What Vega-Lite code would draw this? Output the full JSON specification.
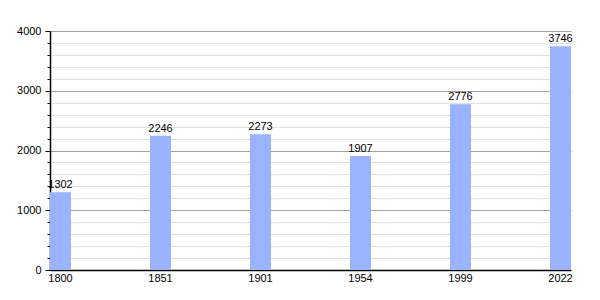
{
  "$schema": "https://vega.github.io/schema/vega-lite/v6.json",
  "width": 521,
  "height": 239,
  "autosize": {"type": "none"},
  "padding": {"left": 50, "top": 31, "right": 29, "bottom": 30},
  "background": "white",
  "config": {
    "view": {"stroke": null},
    "font": "Liberation Sans",
    "axis": {"labelFont": "Liberation Sans", "labelFontSize": 11, "labelColor": "#000", "domainColor": "#000", "tickColor": "#000"}
  },
  "data": {
    "values": [
      {"year": "1800", "pop": 1302},
      {"year": "1851", "pop": 2246},
      {"year": "1901", "pop": 2273},
      {"year": "1954", "pop": 1907},
      {"year": "1999", "pop": 2776},
      {"year": "2022", "pop": 3746}
    ]
  },
  "encoding": {
    "x": {
      "field": "year", "type": "ordinal",
      "scale": {"paddingInner": 0.79, "paddingOuter": 0},
      "axis": {"title": null, "labelAngle": 0, "ticks": false, "labelPadding": 2, "domainWidth": 1.5}
    },
    "y": {
      "field": "pop", "type": "quantitative",
      "scale": {"domain": [0, 4000], "nice": false},
      "axis": {
        "title": null,
        "values": [0, 200, 400, 600, 800, 1000, 1200, 1400, 1600, 1800, 2000, 2200, 2400, 2600, 2800, 3000, 3200, 3400, 3600, 3800, 4000],
        "labelExpr": "datum.value % 1000 === 0 ? datum.label : ''",
        "format": "d",
        "grid": true,
        "gridColor": {"condition": {"test": "datum.value % 1000 === 0", "value": "#a0a0a0"}, "value": "#e0e0e0"},
        "tickSize": {"condition": {"test": "datum.value % 1000 === 0", "value": 5}, "value": 3},
        "labelPadding": 4,
        "domainWidth": 1.5
      }
    }
  },
  "layer": [
    {"mark": {"type": "bar", "color": "#99b3ff"}},
    {
      "mark": {"type": "text", "baseline": "bottom", "dy": -2, "fontSize": 11, "color": "#000"},
      "encoding": {"text": {"field": "pop", "type": "quantitative", "format": "d"}}
    }
  ]
}
